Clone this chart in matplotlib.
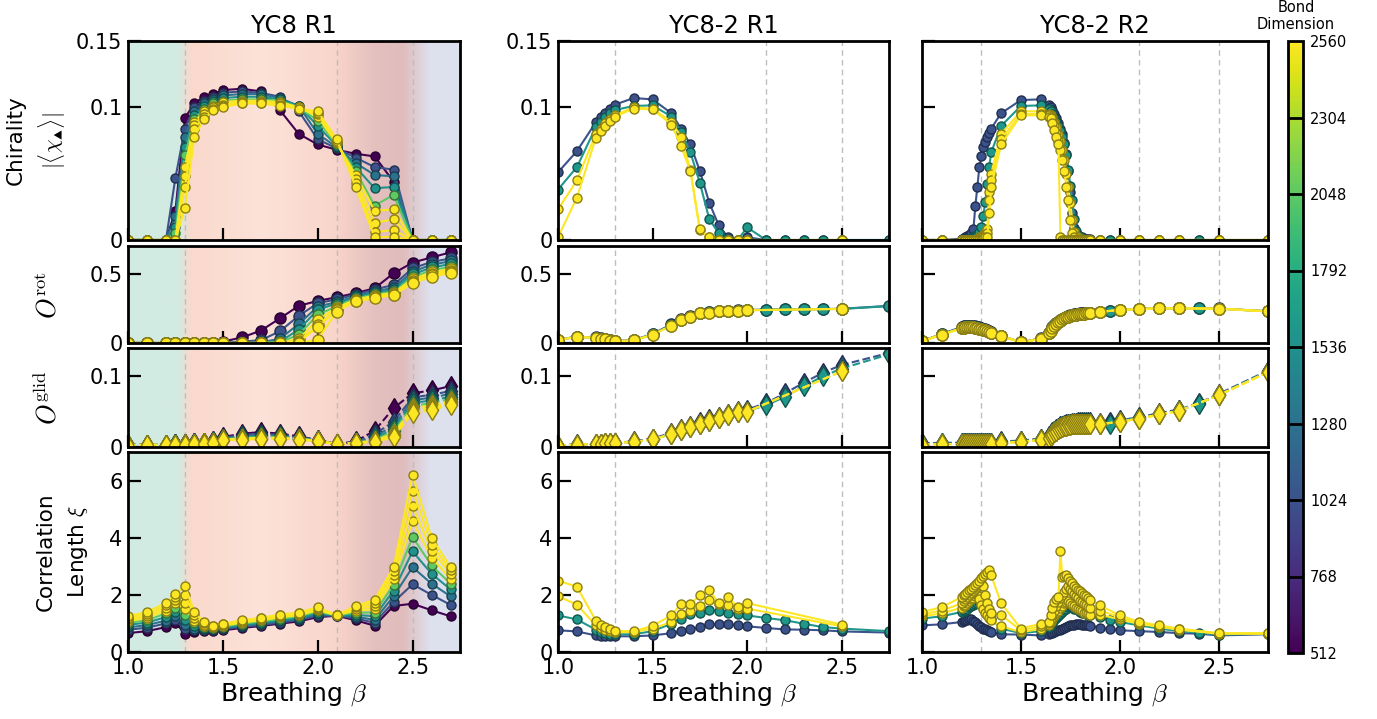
import numpy as np
import matplotlib
matplotlib.use("Agg")
import matplotlib.pyplot as plt
from matplotlib.colors import Normalize, LinearSegmentedColormap
from matplotlib.cm import ScalarMappable

plt.rcParams['font.family'] = 'DejaVu Sans'
plt.rcParams['mathtext.fontset'] = 'cm'

# ---------------- data: YC8 R1 ----------------
beta_c1 = [1.0, 1.1, 1.2, 1.25, 1.3, 1.35, 1.4, 1.45, 1.5, 1.6, 1.7, 1.8, 1.9, 2.0, 2.1, 2.2, 2.3, 2.4, 2.5, 2.6, 2.7]
chi_c1 = [512, 1024, 1280, 1536, 2048, 2560, 3072, 3584, 4096]

chir_c1 = [
    [0, 0, 0, 0.022, 0.092, 0.103, 0.108, 0.110, 0.113, 0.114, 0.112, 0.098, 0.080, 0.072, 0.068, 0.065, 0.063, 0.044, 0, 0, 0],
    [0, 0, 0, 0.047, 0.084, 0.100, 0.105, 0.108, 0.111, 0.112, 0.111, 0.108, 0.097, 0.076, 0.069, 0.062, 0.055, 0.053, 0, 0, 0],
    [0, 0, 0, 0.018, 0.078, 0.097, 0.103, 0.106, 0.109, 0.110, 0.110, 0.107, 0.101, 0.080, 0.070, 0.058, 0.049, 0.048, 0, 0, 0],
    [0, 0, 0, 0.010, 0.070, 0.094, 0.101, 0.105, 0.107, 0.108, 0.108, 0.106, 0.101, 0.086, 0.071, 0.055, 0.039, 0.040, 0, 0, 0],
    [0, 0, 0, 0.005, 0.064, 0.091, 0.099, 0.103, 0.105, 0.106, 0.106, 0.105, 0.100, 0.090, 0.072, 0.052, 0.026, 0.034, 0, 0, 0],
    [0, 0, 0, 0, 0.055, 0.089, 0.097, 0.101, 0.104, 0.105, 0.105, 0.104, 0.100, 0.093, 0.073, 0.049, 0.022, 0.023, 0, 0, 0],
    [0, 0, 0, 0, 0.048, 0.087, 0.095, 0.100, 0.102, 0.104, 0.104, 0.103, 0.100, 0.095, 0.074, 0.046, 0.013, 0.0156, 0, 0, 0],
    [0, 0, 0, 0, 0.040, 0.084, 0.093, 0.099, 0.101, 0.103, 0.103, 0.102, 0.099, 0.096, 0.075, 0.043, 0.006, 0.0075, 0, 0, 0],
    [0, 0, 0, 0, 0.024, 0.078, 0.091, 0.098, 0.100, 0.103, 0.103, 0.101, 0.099, 0.097, 0.076, 0.040, 0.002, 0.0025, 0, 0, 0],
]
orot_c1 = [
    [0, 0, 0, 0, 0, 0, 0, 0, 0.01, 0.04, 0.089, 0.177, 0.268, 0.304, 0.33, 0.36, 0.395, 0.503, 0.58, 0.618, 0.654],
    [0, 0, 0, 0, 0, 0, 0, 0, 0.003, 0.01, 0.02, 0.084, 0.196, 0.287, 0.315, 0.35, 0.385, 0.42, 0.539, 0.585, 0.61],
    [0, 0, 0, 0, 0, 0, 0, 0, 0, 0.003, 0.005, 0.03, 0.137, 0.263, 0.295, 0.338, 0.37, 0.40, 0.515, 0.565, 0.59],
    [0, 0, 0, 0, 0, 0, 0, 0, 0, 0, 0.002, 0.01, 0.096, 0.24, 0.285, 0.33, 0.36, 0.385, 0.495, 0.545, 0.57],
    [0, 0, 0, 0, 0, 0, 0, 0, 0, 0, 0, 0.005, 0.06, 0.204, 0.265, 0.32, 0.35, 0.37, 0.475, 0.525, 0.55],
    [0, 0, 0, 0, 0, 0, 0, 0, 0, 0, 0, 0, 0.03, 0.168, 0.255, 0.313, 0.342, 0.362, 0.46, 0.51, 0.535],
    [0, 0, 0, 0, 0, 0, 0, 0, 0, 0, 0, 0, 0.015, 0.127, 0.245, 0.31, 0.335, 0.356, 0.45, 0.498, 0.522],
    [0, 0, 0, 0, 0, 0, 0, 0, 0, 0, 0, 0, 0.005, 0.115, 0.236, 0.305, 0.33, 0.35, 0.44, 0.488, 0.512],
    [0, 0, 0, 0, 0, 0, 0, 0, 0, 0, 0, 0, 0, 0.024, 0.227, 0.30, 0.323, 0.347, 0.43, 0.479, 0.503],
]
glid_c1 = [
    [0.003, 0.003, 0.003, 0.004, 0.004, 0.005, 0.006, 0.008, 0.014, 0.019, 0.021, 0.019, 0.015, 0.010, 0.004, 0.008, 0.023, 0.055, 0.076, 0.080, 0.086],
    [0.003, 0.003, 0.003, 0.004, 0.004, 0.005, 0.006, 0.008, 0.013, 0.017, 0.019, 0.017, 0.014, 0.010, 0.004, 0.007, 0.018, 0.036, 0.070, 0.074, 0.079],
    [0.003, 0.003, 0.003, 0.004, 0.004, 0.005, 0.006, 0.007, 0.012, 0.015, 0.017, 0.016, 0.013, 0.009, 0.004, 0.007, 0.015, 0.030, 0.066, 0.070, 0.075],
    [0.003, 0.003, 0.003, 0.004, 0.004, 0.005, 0.005, 0.007, 0.011, 0.014, 0.015, 0.015, 0.012, 0.009, 0.004, 0.006, 0.012, 0.026, 0.062, 0.066, 0.071],
    [0.003, 0.003, 0.003, 0.003, 0.004, 0.004, 0.005, 0.007, 0.011, 0.013, 0.014, 0.014, 0.012, 0.009, 0.004, 0.006, 0.010, 0.022, 0.058, 0.062, 0.068],
    [0.003, 0.003, 0.003, 0.003, 0.004, 0.004, 0.005, 0.006, 0.010, 0.012, 0.013, 0.013, 0.011, 0.009, 0.004, 0.006, 0.009, 0.019, 0.055, 0.059, 0.065],
    [0.003, 0.003, 0.003, 0.003, 0.003, 0.004, 0.005, 0.006, 0.010, 0.011, 0.012, 0.013, 0.011, 0.009, 0.004, 0.006, 0.008, 0.017, 0.052, 0.056, 0.063],
    [0.002, 0.003, 0.003, 0.003, 0.003, 0.004, 0.005, 0.006, 0.010, 0.011, 0.012, 0.012, 0.011, 0.008, 0.004, 0.006, 0.007, 0.015, 0.050, 0.054, 0.061],
    [0.002, 0.003, 0.003, 0.003, 0.003, 0.004, 0.004, 0.006, 0.0095, 0.0105, 0.011, 0.012, 0.0105, 0.0085, 0.004, 0.0057, 0.007, 0.014, 0.048, 0.052, 0.060],
]
xi_c1 = [
    [0.66, 0.73, 0.87, 1.03, 0.64, 0.70, 0.72, 0.74, 0.76, 0.84, 0.91, 0.99, 1.07, 1.22, 1.27, 1.11, 0.92, 1.61, 1.69, 1.46, 1.25],
    [0.78, 0.85, 1.0, 1.12, 0.80, 0.76, 0.76, 0.78, 0.80, 0.88, 0.95, 1.03, 1.12, 1.27, 1.27, 1.18, 1.02, 1.75, 2.37, 2.0, 1.65],
    [0.86, 0.94, 1.1, 1.25, 0.95, 0.82, 0.80, 0.80, 0.83, 0.91, 0.99, 1.08, 1.16, 1.32, 1.28, 1.24, 1.12, 1.95, 2.97, 2.39, 1.95],
    [0.95, 1.03, 1.22, 1.4, 1.12, 0.9, 0.84, 0.82, 0.86, 0.95, 1.03, 1.12, 1.2, 1.37, 1.28, 1.3, 1.25, 2.15, 3.52, 2.74, 2.19],
    [1.02, 1.11, 1.35, 1.55, 1.30, 1.0, 0.88, 0.84, 0.89, 0.99, 1.07, 1.16, 1.25, 1.42, 1.28, 1.38, 1.38, 2.35, 4.02, 3.03, 2.39],
    [1.08, 1.19, 1.45, 1.7, 1.52, 1.1, 0.92, 0.86, 0.92, 1.03, 1.11, 1.21, 1.29, 1.46, 1.29, 1.45, 1.5, 2.55, 4.58, 3.3, 2.56],
    [1.14, 1.26, 1.55, 1.82, 1.72, 1.2, 0.96, 0.88, 0.94, 1.06, 1.15, 1.25, 1.33, 1.5, 1.29, 1.5, 1.62, 2.7, 5.1, 3.55, 2.74],
    [1.2, 1.33, 1.63, 1.93, 2.0, 1.3, 1.0, 0.9, 0.97, 1.09, 1.18, 1.28, 1.36, 1.54, 1.29, 1.56, 1.73, 2.85, 5.65, 3.76, 2.86],
    [1.26, 1.40, 1.72, 2.04, 2.30, 1.40, 1.04, 0.92, 0.99, 1.11, 1.20, 1.31, 1.38, 1.57, 1.29, 1.61, 1.83, 2.97, 6.2, 4.0, 2.97],
]

# ---------------- data: YC8-2 R1 ----------------
beta_c2 = [1.0, 1.1, 1.2, 1.225, 1.25, 1.275, 1.3, 1.4, 1.5, 1.6, 1.65, 1.7, 1.75, 1.8, 1.85, 1.9, 1.95, 2.0, 2.1, 2.2, 2.3, 2.4, 2.5, 2.75]
beta_c2_hi = [1.0, 1.1, 1.2, 1.225, 1.25, 1.275, 1.3, 1.4, 1.5, 1.6, 1.65, 1.7, 1.75, 1.8, 1.85, 1.9, 1.95, 2.0, 2.5]
chi_c2 = [1024, 1600, 2560, 3072]

chir_c2 = [
    [0.051, 0.067, 0.0887, 0.0925, 0.096, 0.099, 0.102, 0.107, 0.106, 0.0955, 0.084, 0.072, 0.052, 0.028, 0.011, 0.002, 0, 0.002, 0, 0, 0, 0, 0, 0],
    [0.038, 0.055, 0.085, 0.089, 0.093, 0.0955, 0.098, 0.101, 0.1015, 0.093, 0.0817, 0.066, 0.043, 0.0156, 0.005, 0.001, 0, 0.0095, 0, 0, 0, 0, 0, 0],
    [0.023, 0.045, 0.080, 0.084, 0.088, 0.091, 0.094, 0.100, 0.099, 0.089, 0.078, 0.053, 0.0075, 0.002, 0, 0, 0, 0, 0],
    [0.002, 0.032, 0.077, 0.082, 0.086, 0.090, 0.093, 0.099, 0.0985, 0.087, 0.071, 0.052, 0.008, 0.002, 0, 0, 0, 0, 0],
]
orot_c2 = [
    [0.025, 0.045, 0.04, 0.033, 0.028, 0.02, 0.013, 0.021, 0.065, 0.135, 0.17, 0.193, 0.22, 0.225, 0.232, 0.234, 0.236, 0.238, 0.241, 0.243, 0.244, 0.245, 0.247, 0.268],
    [0.024, 0.044, 0.039, 0.032, 0.027, 0.019, 0.012, 0.02, 0.062, 0.13, 0.166, 0.19, 0.218, 0.222, 0.23, 0.232, 0.234, 0.237, 0.24, 0.242, 0.243, 0.244, 0.246, 0.266],
    [0.024, 0.043, 0.039, 0.031, 0.027, 0.019, 0.012, 0.019, 0.06, 0.126, 0.164, 0.188, 0.217, 0.22, 0.23, 0.232, 0.234, 0.237, 0.246],
    [0.023, 0.043, 0.038, 0.031, 0.026, 0.018, 0.011, 0.019, 0.059, 0.125, 0.163, 0.187, 0.216, 0.22, 0.229, 0.231, 0.233, 0.236, 0.246],
]
glid_c2 = [
    [0.002, 0.004, 0.004, 0.0045, 0.005, 0.0055, 0.006, 0.008, 0.012, 0.02, 0.026, 0.03, 0.035, 0.039, 0.043, 0.047, 0.051, 0.053, 0.062, 0.076, 0.091, 0.105, 0.116, 0.133],
    [0.002, 0.0035, 0.004, 0.0045, 0.005, 0.0055, 0.006, 0.007, 0.011, 0.018, 0.024, 0.028, 0.033, 0.037, 0.041, 0.045, 0.049, 0.051, 0.059, 0.071, 0.086, 0.1, 0.111, 0.131],
    [0.002, 0.0035, 0.004, 0.0045, 0.005, 0.005, 0.006, 0.007, 0.011, 0.018, 0.024, 0.028, 0.033, 0.037, 0.041, 0.045, 0.049, 0.05, 0.107],
    [0.002, 0.0035, 0.004, 0.004, 0.005, 0.005, 0.006, 0.007, 0.011, 0.018, 0.024, 0.028, 0.033, 0.037, 0.041, 0.045, 0.049, 0.05, 0.107],
]
xi_c2 = [
    [0.76, 0.72, 0.58, 0.57, 0.56, 0.55, 0.55, 0.55, 0.58, 0.66, 0.73, 0.79, 0.87, 0.97, 0.97, 0.97, 0.93, 0.90, 0.84, 0.79, 0.78, 0.76, 0.72, 0.68],
    [1.28, 1.14, 0.78, 0.70, 0.66, 0.64, 0.62, 0.62, 0.73, 0.99, 1.17, 1.32, 1.38, 1.46, 1.43, 1.38, 1.34, 1.28, 1.19, 1.11, 0.99, 0.87, 0.82, 0.73],
    [1.95, 1.66, 0.93, 0.85, 0.78, 0.72, 0.69, 0.70, 0.82, 1.05, 1.34, 1.45, 1.6, 1.83, 1.68, 1.66, 1.5, 1.52, 0.9],
    [2.5, 2.28, 1.1, 0.96, 0.88, 0.8, 0.75, 0.72, 0.92, 1.28, 1.69, 1.69, 1.98, 2.16, 1.72, 1.92, 1.57, 1.71, 0.96],
]

# ---------------- data: YC8-2 R2 ----------------
beta_c3 = [1.0, 1.1,
           1.2, 1.21, 1.22, 1.23, 1.24, 1.25, 1.26, 1.27, 1.28, 1.29, 1.3, 1.31, 1.32, 1.33, 1.34, 1.35,
           1.4, 1.5, 1.6,
           1.64, 1.65, 1.66, 1.67, 1.68, 1.69, 1.7, 1.71, 1.72, 1.73, 1.74, 1.75, 1.76, 1.77, 1.78, 1.79,
           1.8, 1.81, 1.82, 1.83, 1.84, 1.85,
           1.9, 1.95, 2.0, 2.1, 2.2, 2.3, 2.4, 2.5, 2.75]
beta_c3_hi = [1.0, 1.1,
              1.2, 1.21, 1.22, 1.23, 1.24, 1.25, 1.26, 1.27, 1.28, 1.29, 1.3, 1.31, 1.32, 1.33, 1.34, 1.35,
              1.4, 1.5, 1.6,
              1.64, 1.65, 1.66, 1.67, 1.68, 1.69, 1.7, 1.71, 1.72, 1.73, 1.74, 1.75, 1.76, 1.77, 1.78, 1.79,
              1.8, 1.81, 1.82, 1.83, 1.84, 1.85,
              1.9, 2.0, 2.1, 2.2, 2.3, 2.5, 2.75]
chi_c3 = [1024, 1600, 2560, 3072, 4096]

chir_c3 = [
    [0, 0,
     0.001, 0.001, 0.002, 0.003, 0.004, 0.005, 0.008, 0.026, 0.040, 0.055, 0.063, 0.070, 0.074, 0.078, 0.081, 0.084,
     0.0955, 0.1055, 0.106,
     0.102, 0.1005, 0.098, 0.095, 0.092, 0.088, 0.084, 0.080, 0.073, 0.065, 0.052, 0.036, 0.02, 0.009, 0.005, 0.003,
     0.002, 0.002, 0.001, 0.001, 0.001, 0.001,
     0, 0, 0, 0, 0, 0, 0, 0, 0],
    [0, 0,
     0, 0, 0, 0.001, 0.001, 0.001, 0.002, 0.003, 0.004, 0.006, 0.01, 0.018, 0.029, 0.042, 0.055, 0.066,
     0.086, 0.101, 0.1015,
     0.099, 0.097, 0.095, 0.092, 0.089, 0.086, 0.082, 0.078, 0.072, 0.064, 0.053, 0.041, 0.03, 0.016, 0.007, 0.004,
     0.002, 0.001, 0.001, 0.001, 0, 0,
     0, 0, 0, 0, 0, 0, 0, 0, 0],
    [0, 0,
     0, 0, 0, 0, 0, 0, 0, 0, 0.001, 0.002, 0.003, 0.004, 0.005, 0.008, 0.036, 0.05,
     0.08, 0.097, 0.097,
     0.095, 0.094, 0.092, 0.089, 0.085, 0.08, 0.075, 0.068, 0.06, 0.05, 0.04, 0.028, 0.015, 0.006, 0.003, 0.002,
     0.001, 0.001, 0, 0, 0, 0,
     0, 0, 0, 0, 0, 0, 0],
    [0, 0,
     0, 0, 0, 0, 0, 0, 0, 0, 0, 0.001, 0.002, 0.003, 0.004, 0.005, 0.03, 0.045,
     0.076, 0.095, 0.095,
     0.094, 0.093, 0.09, 0.086, 0.081, 0.075, 0.068, 0.06, 0.052, 0.04, 0.03, 0.015, 0.005, 0.002, 0.001, 0,
     0, 0, 0, 0, 0, 0,
     0, 0, 0, 0, 0, 0, 0],
    [0, 0,
     0, 0, 0, 0, 0, 0, 0, 0, 0, 0, 0, 0.001, 0.002, 0.002, 0.02, 0.04,
     0.072, 0.094, 0.094,
     0.093, 0.092, 0.088, 0.083, 0.078, 0.072, 0.002, 0, 0, 0, 0, 0, 0, 0, 0, 0,
     0, 0, 0, 0, 0, 0,
     0, 0, 0, 0, 0, 0, 0],
]
orot_c3_blue = [0.014, 0.065,
                0.115, 0.12, 0.123, 0.125, 0.125, 0.124, 0.122, 0.12, 0.117, 0.113, 0.108, 0.103, 0.098, 0.092, 0.085, 0.077,
                0.052, 0.006, 0.033,
                0.075, 0.095, 0.115, 0.13, 0.145, 0.155, 0.165, 0.175, 0.182, 0.19, 0.195, 0.2, 0.204, 0.207, 0.209, 0.211,
                0.213, 0.214, 0.215, 0.216, 0.217, 0.218,
                0.226, 0.233, 0.239, 0.246, 0.251, 0.251, 0.251, 0.249, 0.229]
orot_c3_teal = [0.013, 0.063,
                0.11, 0.115, 0.118, 0.12, 0.12, 0.119, 0.117, 0.115, 0.112, 0.108, 0.104, 0.099, 0.094, 0.088, 0.082, 0.075,
                0.051, 0.005, 0.031,
                0.072, 0.092, 0.112, 0.127, 0.142, 0.152, 0.162, 0.172, 0.18, 0.187, 0.192, 0.197, 0.201, 0.204, 0.207, 0.209,
                0.211, 0.212, 0.213, 0.214, 0.215, 0.216,
                0.225, 0.233, 0.238, 0.245, 0.25, 0.25, 0.25, 0.248, 0.228]
orot_c3_hi = [0.012, 0.061,
              0.105, 0.11, 0.113, 0.115, 0.115, 0.114, 0.112, 0.11, 0.107, 0.104, 0.1, 0.096, 0.092, 0.087, 0.08, 0.073,
              0.05, 0.005, 0.03,
              0.07, 0.09, 0.11, 0.125, 0.14, 0.15, 0.16, 0.17, 0.178, 0.185, 0.19, 0.195, 0.199, 0.202, 0.205, 0.207,
              0.209, 0.21, 0.212, 0.213, 0.214, 0.215,
              0.225, 0.238, 0.245, 0.25, 0.25, 0.248, 0.228]
orot_c3 = [orot_c3_blue, orot_c3_teal, orot_c3_hi, orot_c3_hi, orot_c3_hi]

glid_c3_blue = [0.005, 0.006,
                0.006, 0.006, 0.006, 0.006, 0.006, 0.006, 0.006, 0.006, 0.006, 0.006, 0.006, 0.006, 0.006, 0.006, 0.006, 0.006,
                0.008, 0.009, 0.012,
                0.015, 0.018, 0.021, 0.023, 0.025, 0.027, 0.029, 0.03, 0.031, 0.032, 0.033, 0.033, 0.034, 0.034, 0.034, 0.035,
                0.035, 0.035, 0.035, 0.035, 0.035, 0.035,
                0.034, 0.035, 0.038, 0.042, 0.048, 0.053, 0.062, 0.075, 0.108]
glid_c3_teal = [0.004, 0.005,
                0.005, 0.005, 0.005, 0.005, 0.005, 0.005, 0.005, 0.005, 0.005, 0.005, 0.005, 0.005, 0.005, 0.005, 0.005, 0.005,
                0.007, 0.008, 0.011,
                0.014, 0.017, 0.02, 0.022, 0.024, 0.026, 0.028, 0.029, 0.03, 0.031, 0.032, 0.032, 0.033, 0.033, 0.033, 0.034,
                0.034, 0.034, 0.034, 0.034, 0.034, 0.034,
                0.033, 0.033, 0.037, 0.041, 0.046, 0.052, 0.061, 0.074, 0.107]
glid_c3_hi = [0.0035, 0.004,
              0.004, 0.004, 0.004, 0.004, 0.004, 0.004, 0.004, 0.004, 0.004, 0.004, 0.004, 0.004, 0.004, 0.004, 0.004, 0.004,
              0.006, 0.007, 0.01,
              0.013, 0.016, 0.019, 0.021, 0.023, 0.025, 0.027, 0.028, 0.029, 0.03, 0.031, 0.031, 0.032, 0.032, 0.032, 0.033,
              0.033, 0.033, 0.033, 0.033, 0.033, 0.033,
              0.032, 0.036, 0.04, 0.046, 0.051, 0.073, 0.106]
glid_c3 = [glid_c3_blue, glid_c3_teal, glid_c3_hi, glid_c3_hi, glid_c3_hi]

xi_c3 = [
    [0.93, 0.97,
     1.05, 1.08, 1.11, 1.13, 1.16, 1.14, 1.1, 1.04, 0.97, 0.9, 0.86, 0.82, 0.79, 0.76, 0.73, 0.7,
     0.62, 0.61, 0.58,
     0.64, 0.66, 0.68, 0.7, 0.73, 0.76, 0.78, 0.81, 0.84, 0.87, 0.9, 0.93, 0.95, 0.96, 0.97, 0.97,
     0.97, 0.96, 0.95, 0.94, 0.93, 0.92,
     0.85, 0.79, 0.76, 0.73, 0.7, 0.66, 0.64, 0.58, 0.62],
    [1.17, 1.25,
     1.4, 1.44, 1.48, 1.52, 1.56, 1.6, 1.64, 1.68, 1.72, 1.76, 1.81, 1.65, 1.46, 1.35, 1.25, 1.17,
     0.82, 0.66, 0.73,
     0.87, 0.95, 1.03, 1.11, 1.19, 1.27, 1.34, 1.4, 1.46, 1.52, 1.56, 1.6, 1.56, 1.52, 1.49, 1.46,
     1.4, 1.38, 1.35, 1.32, 1.3, 1.28,
     1.22, 1.11, 1.05, 0.93, 0.82, 0.73, 0.68, 0.61, 0.64],
    [1.25, 1.35,
     1.55, 1.6, 1.66, 1.72, 1.78, 1.84, 1.9, 1.96, 2.0, 1.85, 1.65, 1.5, 1.38, 1.28, 1.2, 1.12,
     0.9, 0.7, 0.8,
     0.95, 1.05, 1.15, 1.25, 1.35, 1.45, 1.55, 1.62, 1.7, 1.75, 1.78, 1.72, 1.66, 1.6, 1.55, 1.5,
     1.46, 1.42, 1.38, 1.35, 1.32, 1.3,
     1.3, 1.15, 0.98, 0.88, 0.78, 0.64, 0.64],
    [1.32, 1.45,
     1.7, 1.77, 1.84, 1.91, 1.98, 2.05, 2.12, 2.19, 2.26, 2.33, 2.4, 2.3, 2.0, 1.7, 1.5, 1.35,
     1.3, 0.76, 0.9,
     1.0, 1.15, 1.3, 1.45, 1.6, 1.75, 1.88, 2.0, 2.1, 2.2, 2.3, 2.22, 2.12, 2.03, 1.95, 1.88,
     1.8, 1.74, 1.68, 1.63, 1.58, 1.55,
     1.45, 1.22, 1.02, 0.9, 0.8, 0.65, 0.65],
    [1.4, 1.57,
     1.92, 1.98, 2.04, 2.1, 2.16, 2.22, 2.28, 2.35, 2.42, 2.5, 2.58, 2.66, 2.74, 2.8, 2.86, 2.68,
     1.71, 0.82, 0.99,
     1.05, 1.3, 1.55, 1.75, 1.85, 1.92, 3.52, 2.62, 2.66, 2.68, 2.6, 2.5, 2.4, 2.32, 2.25, 2.18,
     2.12, 2.06, 2.0, 1.95, 1.88, 1.83,
     1.63, 1.28, 1.05, 0.93, 0.82, 0.66, 0.66],
]

titles = ['YC8 R1', 'YC8-2 R1', 'YC8-2 R2']
transitions = [1.3, 2.1, 2.5]
cbar_ticks = [512, 768, 1024, 1280, 1536, 1792, 2048, 2304, 2560]

# ---------------- styling ----------------
norm = Normalize(vmin=512, vmax=2560)
cmap = plt.get_cmap('viridis')

phase_cmap = LinearSegmentedColormap.from_list('phase', [
    (0.0, '#d2ebe2'), ((1.26 - 1) / 1.75, '#d2ebe2'), ((1.33 - 1) / 1.75, '#fad9cc'),
    ((1.7 - 1) / 1.75, '#fce2d8'), ((2.08 - 1) / 1.75, '#f9d6cc'), ((2.3 - 1) / 1.75, '#e5c0bf'),
    ((2.45 - 1) / 1.75, '#e0bcbc'), ((2.6 - 1) / 1.75, '#dde1ee'), (1.0, '#dde1ee')])

W, H = 1377, 719
fig = plt.figure(figsize=(W / 100, H / 100), dpi=100)

col_x = [(128, 460), (558, 889), (922, 1268)]
row_y = [(41, 240), (246, 343), (348, 447), (452, 652)]
ylims = [(0, 0.15), (0, 0.7), (0, 0.14), (0, 7)]
yticks = [[0, 0.1, 0.15], [0, 0.5], [0, 0.1], [0, 2, 4, 6]]
yticklabels = [['0', '0.1', '0.15'], ['0', '0.5'], ['0', '0.1'], ['0', '2', '4', '6']]
ylabels = ['Chirality\n$|\\langle\\chi_\\blacktriangle\\rangle|$', '$O^{\\rm rot}$', '$O^{\\rm glid}$',
           'Correlation\nLength $\\xi$']
ylabel_size = [15.5, 19, 19, 15.5]
ylabel_x = [-0.181, -0.196, -0.196, -0.1145]   # right edge of label, axes fraction
ylabel_ls = [1.45, 1.2, 1.2, 1.55]

col_data = [
    (beta_c1, [beta_c1] * 9, chi_c1, [chir_c1, orot_c1, glid_c1, xi_c1]),
    (beta_c2, [beta_c2, beta_c2, beta_c2_hi, beta_c2_hi], chi_c2, [chir_c2, orot_c2, glid_c2, xi_c2]),
    (beta_c3, [beta_c3, beta_c3, beta_c3_hi, beta_c3_hi, beta_c3_hi], chi_c3, [chir_c3, orot_c3, glid_c3, xi_c3]),
]
mk = ['o', 'o', 'd', 'o']
msz = [6.5, 8, 10, 6.5]
lss = ['-', '-', '--', '-']

for c, (x0, x1) in enumerate(col_x):
    _, betas, chis, panels = col_data[c]
    for r, (y0, y1) in enumerate(row_y):
        ax = fig.add_axes([x0 / W, 1 - y1 / H, (x1 - x0) / W, (y1 - y0) / H])
        if c == 0:
            ax.imshow(np.linspace(0, 1, 600)[None, :], cmap=phase_cmap, aspect='auto',
                      extent=(1.0, 2.75, ylims[r][0], ylims[r][1]), zorder=0, interpolation='bilinear')
        for t in transitions:
            ax.axvline(t, color='#bdbdbd', lw=1, ls=(0, (4, 3)), zorder=1)
        for b, chi, vals in zip(betas, chis, panels[r]):
            col = cmap(norm(chi))
            edge = tuple(0.55 * np.array(col[:3]))
            ax.plot(b, vals, ls=lss[r], color=col, lw=1.5, marker=mk[r], ms=msz[r],
                    mfc=col, mec=edge, mew=1, zorder=2)
        ax.set_xlim(1.0, 2.75)
        ax.set_ylim(*ylims[r])
        ax.set_xticks([1.0, 1.5, 2.0, 2.5])
        ax.set_yticks(yticks[r])
        ax.tick_params(direction='in', length=9, width=1.6, labelsize=15, pad=4,
                       top=False, right=False)
        for s in ax.spines.values():
            s.set_linewidth(2)
        if r == 3:
            ax.set_xticklabels(['1.0', '1.5', '2.0', '2.5'])
            ax.set_xlabel('Breathing $\\beta$', fontsize=18, labelpad=2)
        else:
            ax.set_xticklabels([])
        if c < 2:
            ax.set_yticklabels(yticklabels[r])
        else:
            ax.set_yticklabels([])
        if c == 0:
            ax.set_ylabel(ylabels[r], fontsize=ylabel_size[r], linespacing=ylabel_ls[r])
            ax.yaxis.set_label_coords(ylabel_x[r], 0.5)
        if r == 0:
            ax.set_title(titles[c], fontsize=17.5, pad=6)

# colorbar
cax = fig.add_axes([1288 / W, 1 - 653 / H, 15 / W, 612 / H])
sm = ScalarMappable(norm=norm, cmap=cmap)
cb = fig.colorbar(sm, cax=cax, ticks=cbar_ticks)
cb.outline.set_linewidth(2)
cax.tick_params(labelsize=10.5, length=0, pad=5)
for t in cbar_ticks[1:-1]:
    cax.axhline(t, color='k', lw=2)
fig.text(1296 / W, 1 - 16 / H, 'Bond\nDimension', ha='center', va='center', fontsize=10.5,
         linespacing=1.1)

fig.savefig('out.png', dpi=100)
